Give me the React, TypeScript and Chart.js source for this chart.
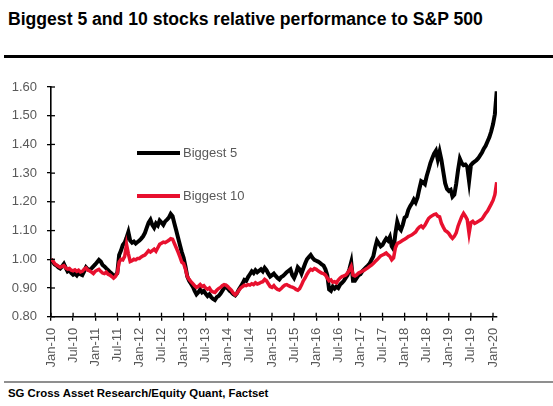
import React, { useEffect, useRef } from "react";
import { Chart, registerables } from "chart.js";

Chart.register(...registerables);

const TITLE = "Biggest 5 and 10 stocks relative performance to S&P 500";
const SOURCE = "SG Cross Asset Research/Equity Quant, Factset";
const SERIES_LABELS = ["Biggest 5", "Biggest 10"];
const SERIES_COLORS = ["#000000", "#e8102e"];

const X_TICK_LABELS = [
  "Jan-10", "Jul-10", "Jan-11", "Jul-11", "Jan-12", "Jul-12", "Jan-13",
  "Jul-13", "Jan-14", "Jul-14", "Jan-15", "Jul-15", "Jan-16", "Jul-16",
  "Jan-17", "Jul-17", "Jan-18", "Jul-18", "Jan-19", "Jul-19", "Jan-20",
];
const Y_TICKS = [0.8, 0.9, 1.0, 1.1, 1.2, 1.3, 1.4, 1.5, 1.6];

// half-monthly observations starting Jan-2010
const POINTS_PER_YEAR = 24;

const biggest5 = [
  1.000, 0.990, 0.982, 0.978, 0.972, 0.968, 0.975, 0.984, 0.970, 0.958, 0.962, 0.952, 0.946, 0.950, 0.944, 0.953, 0.948, 0.945, 0.958, 0.972, 0.965, 0.962, 0.968, 0.975,
  0.982, 0.990, 0.998, 0.992, 0.980, 0.975, 0.968, 0.962, 0.955, 0.950, 0.940, 0.945, 0.952, 1.015, 1.030, 1.050, 1.058, 1.075, 1.095, 1.065, 1.058, 1.062, 1.055, 1.060,
  1.065, 1.072, 1.080, 1.092, 1.110, 1.128, 1.138, 1.120, 1.110, 1.125, 1.118, 1.135, 1.128, 1.120, 1.132, 1.138, 1.145, 1.158, 1.150, 1.125, 1.100, 1.075, 1.050, 1.025,
  1.005, 0.975, 0.940, 0.925, 0.915, 0.905, 0.890, 0.878, 0.885, 0.895, 0.885, 0.890, 0.880, 0.872, 0.878, 0.868, 0.862, 0.858, 0.868, 0.872, 0.880, 0.890, 0.900, 0.905,
  0.898, 0.890, 0.885, 0.878, 0.874, 0.882, 0.895, 0.905, 0.915, 0.928, 0.925, 0.938, 0.948, 0.958, 0.952, 0.962, 0.955, 0.960, 0.965, 0.958, 0.970, 0.962, 0.950, 0.940,
  0.945, 0.950, 0.942, 0.935, 0.930, 0.938, 0.942, 0.948, 0.955, 0.960, 0.965, 0.945, 0.935, 0.950, 0.972, 0.965, 0.950, 0.968, 0.985, 1.000, 1.008, 1.015, 1.005, 0.998,
  0.995, 0.992, 0.988, 0.982, 0.978, 0.965, 0.945, 0.895, 0.890, 0.905, 0.898, 0.905, 0.900, 0.912, 0.918, 0.925, 0.935, 0.945, 0.965, 0.990, 0.925, 0.925, 0.935, 0.945,
  0.948, 0.958, 0.965, 0.972, 0.978, 0.985, 0.998, 1.010, 1.040, 1.065, 1.055, 1.045, 1.050, 1.062, 1.072, 1.065, 1.078, 1.045, 1.035, 1.090, 1.130, 1.110, 1.102, 1.120,
  1.145, 1.150, 1.172, 1.185, 1.195, 1.208, 1.198, 1.215, 1.245, 1.272, 1.268, 1.262, 1.290, 1.312, 1.335, 1.352, 1.368, 1.378, 1.348, 1.375, 1.345, 1.305, 1.265, 1.245,
  1.238, 1.242, 1.218, 1.225, 1.262, 1.310, 1.350, 1.335, 1.328, 1.330, 1.322, 1.272, 1.328, 1.335, 1.340, 1.345, 1.352, 1.362, 1.372, 1.385, 1.395, 1.410, 1.425, 1.445,
  1.470, 1.505, 1.585,
];

const biggest10 = [
  1.000, 0.995, 0.985, 0.980, 0.976, 0.972, 0.975, 0.978, 0.970, 0.966, 0.968, 0.962, 0.960, 0.963, 0.958, 0.962, 0.956, 0.958, 0.965, 0.970, 0.962, 0.960, 0.955, 0.950,
  0.958, 0.962, 0.965, 0.958, 0.952, 0.950, 0.955, 0.948, 0.945, 0.940, 0.934, 0.940, 0.952, 0.990, 1.000, 0.998, 1.010, 1.052, 1.020, 0.992, 0.995, 1.000, 0.998, 1.003,
  1.003, 1.008, 1.012, 1.015, 1.022, 1.030, 1.025, 1.030, 1.035, 1.028, 1.040, 1.052, 1.056, 1.060, 1.058, 1.062, 1.066, 1.072, 1.070, 1.055, 1.040, 1.025, 1.008, 0.990,
  0.985, 0.965, 0.940, 0.930, 0.922, 0.915, 0.908, 0.902, 0.906, 0.912, 0.905, 0.908, 0.900, 0.896, 0.900, 0.890, 0.886, 0.884, 0.892, 0.898, 0.902, 0.908, 0.912, 0.910,
  0.905, 0.898, 0.892, 0.882, 0.876, 0.882, 0.892, 0.900, 0.905, 0.910, 0.908, 0.912, 0.910, 0.915, 0.912, 0.918, 0.914, 0.916, 0.920, 0.922, 0.930, 0.925, 0.915, 0.905,
  0.902, 0.908, 0.900, 0.895, 0.893, 0.898, 0.905, 0.910, 0.912, 0.908, 0.905, 0.903, 0.900, 0.895, 0.892, 0.898, 0.910, 0.925, 0.935, 0.948, 0.958, 0.965, 0.962, 0.968,
  0.965, 0.960, 0.956, 0.952, 0.950, 0.945, 0.935, 0.925, 0.928, 0.920, 0.922, 0.918, 0.928, 0.935, 0.940, 0.942, 0.945, 0.952, 0.962, 0.975, 0.945, 0.942, 0.946, 0.952,
  0.955, 0.958, 0.962, 0.966, 0.970, 0.975, 0.980, 0.985, 0.992, 0.998, 1.005, 1.012, 1.015, 1.018, 1.022, 1.015, 1.010, 0.998, 1.005, 1.040, 1.055, 1.058, 1.062, 1.066,
  1.070, 1.074, 1.079, 1.082, 1.085, 1.090, 1.095, 1.105, 1.112, 1.116, 1.110, 1.118, 1.130, 1.142, 1.148, 1.152, 1.156, 1.158, 1.150, 1.148, 1.125, 1.112, 1.100, 1.096,
  1.090, 1.080, 1.073, 1.080, 1.092, 1.115, 1.132, 1.148, 1.160, 1.150, 1.138, 1.090, 1.128, 1.132, 1.125, 1.128, 1.132, 1.136, 1.140, 1.150, 1.160, 1.168, 1.180, 1.192,
  1.205, 1.225, 1.268,
];

const FONT = "'Liberation Sans', Arial, Helvetica, sans-serif";
const LABEL_GRAY = "#595959";

const toPoints = (vals: number[]) =>
  vals.map((v, i) => ({ x: i / POINTS_PER_YEAR, y: v }));

const decorPlugin = {
  id: "decor",
  afterDraw(chart: any) {
    const ctx = chart.ctx as CanvasRenderingContext2D;
    const area = chart.chartArea;
    const xs = chart.scales.x;
    const ys = chart.scales.y;
    ctx.save();
    // inner tick marks (ticks cross the axes)
    ctx.strokeStyle = "#000";
    ctx.lineWidth = 1.3;
    xs.ticks.forEach((t: any) => {
      const px = xs.getPixelForValue(t.value);
      ctx.beginPath();
      ctx.moveTo(px, area.bottom);
      ctx.lineTo(px, area.bottom - 4);
      ctx.stroke();
    });
    ys.ticks.forEach((t: any) => {
      const py = ys.getPixelForValue(t.value);
      ctx.beginPath();
      ctx.moveTo(area.left, py);
      ctx.lineTo(area.left + 4, py);
      ctx.stroke();
    });
    // legend inside the plot
    const rows = [66, 109];
    chart.data.datasets.forEach((ds: any, i: number) => {
      const y = area.top + rows[i];
      ctx.strokeStyle = ds.borderColor;
      ctx.lineWidth = 4;
      ctx.beginPath();
      ctx.moveTo(area.left + 86, y);
      ctx.lineTo(area.left + 129, y);
      ctx.stroke();
      ctx.fillStyle = LABEL_GRAY;
      ctx.font = `13px ${FONT}`;
      ctx.textBaseline = "middle";
      ctx.textAlign = "left";
      ctx.fillText(ds.label, area.left + 132, y + 0.5);
    });
    ctx.restore();
  },
};

export default function App() {
  const canvasRef = useRef<HTMLCanvasElement | null>(null);

  useEffect(() => {
    if (!canvasRef.current) return;
    const chart = new Chart(canvasRef.current, {
      type: "line",
      data: {
        datasets: [
          {
            label: SERIES_LABELS[0],
            data: toPoints(biggest5),
            borderColor: SERIES_COLORS[0],
            backgroundColor: SERIES_COLORS[0],
            borderWidth: 4,
            pointRadius: 0,
            tension: 0,
            order: 2,
          },
          {
            label: SERIES_LABELS[1],
            data: toPoints(biggest10),
            borderColor: SERIES_COLORS[1],
            backgroundColor: SERIES_COLORS[1],
            borderWidth: 3.5,
            pointRadius: 0,
            tension: 0,
            order: 1,
          },
        ],
      },
      options: {
        animation: false,
        responsive: false,
        devicePixelRatio: 1,
        layout: { padding: { top: 27, right: 56, left: 0, bottom: 0 } },
        plugins: {
          legend: { display: false },
          tooltip: { enabled: false },
          title: { display: false },
        },
        scales: {
          x: {
            type: "linear",
            min: 0,
            max: 10.09,
            afterBuildTicks: (s: any) => {
              s.ticks = X_TICK_LABELS.map((_, i) => ({ value: i * 0.5 }));
            },
            afterFit: (s: any) => {
              s.height = 63.3;
            },
            ticks: {
              autoSkip: false,
              maxRotation: 90,
              minRotation: 90,
              padding: 7,
              color: LABEL_GRAY,
              font: { family: FONT, size: 13 },
              callback: (_v: any, i: number) => X_TICK_LABELS[i],
            },
            grid: {
              drawOnChartArea: false,
              drawTicks: true,
              tickLength: 4,
              color: "#000",
              lineWidth: 1.3,
            },
            border: { display: true, color: "#000", width: 1.6 },
          },
          y: {
            type: "linear",
            min: 0.8,
            max: 1.6,
            afterBuildTicks: (s: any) => {
              s.ticks = Y_TICKS.map((v) => ({ value: v }));
            },
            afterFit: (s: any) => {
              s.width = 51;
            },
            ticks: {
              padding: 10,
              color: LABEL_GRAY,
              font: { family: FONT, size: 13 },
              callback: (v: any) => Number(v).toFixed(2),
            },
            grid: {
              drawOnChartArea: false,
              drawTicks: true,
              tickLength: 4,
              color: "#000",
              lineWidth: 1.3,
            },
            border: { display: true, color: "#000", width: 1.6 },
          },
        },
      },
      plugins: [decorPlugin],
    });
    return () => chart.destroy();
  }, []);

  return (
    <div
      style={{
        position: "fixed",
        left: 0,
        top: 0,
        width: 553,
        height: 406,
        background: "#fff",
        overflow: "hidden",
        fontFamily: FONT,
      }}
    >
      <div
        style={{
          position: "absolute",
          left: 8,
          top: 10.8,
          fontSize: 17.6,
          lineHeight: "17.6px",
          fontWeight: "bold",
          color: "#000",
          whiteSpace: "nowrap",
        }}
      >
        {TITLE}
      </div>
      <div
        style={{
          position: "absolute",
          left: 4,
          top: 55,
          width: 549,
          height: 3,
          background: "#000",
        }}
      />
      <canvas
        ref={canvasRef}
        width={553}
        height={320}
        style={{ position: "absolute", left: 0, top: 60, width: 553, height: 320 }}
      />
      <div
        style={{
          position: "absolute",
          left: 4,
          top: 381,
          width: 549,
          height: 2,
          background: "#8f8f8f",
        }}
      />
      <div
        style={{
          position: "absolute",
          left: 8,
          top: 388,
          fontSize: 11.4,
          lineHeight: "11.4px",
          fontWeight: "bold",
          color: "#000",
          whiteSpace: "nowrap",
        }}
      >
        {SOURCE}
      </div>
    </div>
  );
}
